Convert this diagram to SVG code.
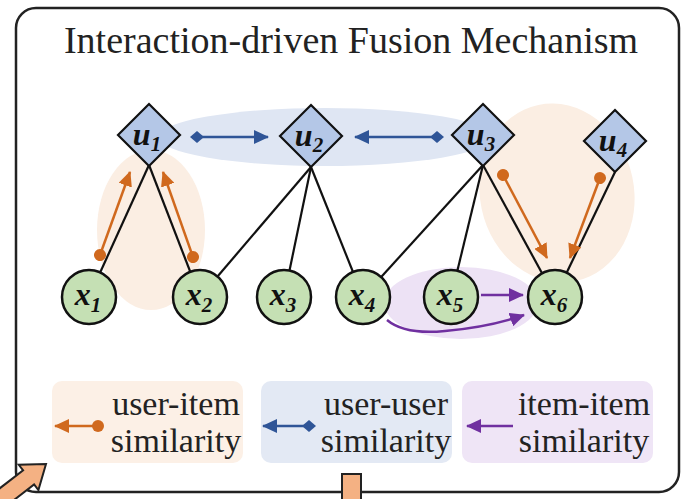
<svg xmlns="http://www.w3.org/2000/svg" width="682" height="499" viewBox="0 0 682 499">
<style>
.title{font-family:"Liberation Serif","Times New Roman",serif;font-size:38px;fill:#222}
.leg{font-family:"Liberation Serif","Times New Roman",serif;font-size:34px;fill:#222}
.lbl{font-family:"Liberation Serif","Times New Roman",serif;font-size:32px;font-weight:bold;font-style:italic;fill:#111}
.sub{font-size:21px}
.user{fill:#b4c7e7;stroke:#111;stroke-width:2.2}
.item{fill:#c5e0b4;stroke:#111;stroke-width:2.5}
.edge{stroke:#111;stroke-width:2.2;fill:none}
.ui{stroke:#d0691e;stroke-width:2.5;fill:none}
.uu{stroke:#2f5597;stroke-width:2.5;fill:none}
.ii{stroke:#7030a0;stroke-width:2.5;fill:none}
.block{fill:#f4b183;stroke:#222;stroke-width:2}
</style>
<defs>
<marker id="oh" markerUnits="userSpaceOnUse" markerWidth="16" markerHeight="14" refX="14" refY="7" orient="auto"><path d="M0,0 L15,7 L0,14 Z" fill="#d0691e"/></marker>
<marker id="od" markerUnits="userSpaceOnUse" markerWidth="14" markerHeight="14" refX="7" refY="7" orient="auto"><circle cx="7" cy="7" r="6" fill="#d0691e"/></marker>
<marker id="bh" markerUnits="userSpaceOnUse" markerWidth="16" markerHeight="14" refX="14" refY="7" orient="auto"><path d="M0,0 L15,7 L0,14 Z" fill="#2f5597"/></marker>
<marker id="bd" markerUnits="userSpaceOnUse" markerWidth="14" markerHeight="14" refX="7" refY="7" orient="auto"><path d="M0,7 L7,1 L14,7 L7,13 Z" fill="#2f5597"/></marker>
<marker id="ph" markerUnits="userSpaceOnUse" markerWidth="16" markerHeight="14" refX="14" refY="7" orient="auto"><path d="M0,0 L15,7 L0,14 Z" fill="#7030a0"/></marker>
</defs>

<rect x="16" y="8" width="663" height="484" rx="20" fill="#fff" stroke="#222" stroke-width="2.5"/>
<text class="title" x="351" y="53" text-anchor="middle">Interaction-driven Fusion Mechanism</text>

<g id="backgrounds">
<ellipse cx="325" cy="137" rx="167" ry="29" fill="#dfe6f3"/>
<ellipse cx="151" cy="230" rx="54" ry="80" fill="#fbeee3"/>
<ellipse cx="557" cy="193" rx="77" ry="90" fill="#fbeee3" transform="rotate(-12 557 193)"/>
<ellipse cx="461" cy="303" rx="77" ry="36" fill="#ede2f5"/>
</g>

<g id="connectors">
<line class="edge" x1="149" y1="165" x2="89" y2="297"/>
<line class="edge" x1="149" y1="165" x2="200" y2="297"/>
<line class="edge" x1="311" y1="167" x2="200" y2="297"/>
<line class="edge" x1="311" y1="167" x2="284" y2="297"/>
<line class="edge" x1="311" y1="167" x2="363" y2="297"/>
<line class="edge" x1="483" y1="165" x2="363" y2="297"/>
<line class="edge" x1="483" y1="165" x2="451" y2="297"/>
<line class="edge" x1="483" y1="165" x2="555" y2="297"/>
<line class="edge" x1="615" y1="172" x2="555" y2="297"/>
<line class="uu" x1="197" y1="137" x2="268" y2="137" marker-start="url(#bd)" marker-end="url(#bh)"/>
<line class="uu" x1="437" y1="137" x2="355" y2="137" marker-start="url(#bd)" marker-end="url(#bh)"/>
<line class="ui" x1="100" y1="255" x2="130" y2="172" marker-start="url(#od)" marker-end="url(#oh)"/>
<line class="ui" x1="193" y1="257" x2="163" y2="172" marker-start="url(#od)" marker-end="url(#oh)"/>
<line class="ui" x1="503" y1="175" x2="547" y2="258" marker-start="url(#od)" marker-end="url(#oh)"/>
<line class="ui" x1="600" y1="178" x2="570" y2="258" marker-start="url(#od)" marker-end="url(#oh)"/>
<line class="ii" x1="481" y1="295" x2="523" y2="295" marker-end="url(#ph)"/>
<path class="ii" d="M387,320 Q405,335 445,331 Q490,327 524,315" marker-end="url(#ph)"/>
</g>

<g id="u1"><path class="user" d="M149,104 L180,135 L149,166 L118,135 Z"/><text class="lbl" x="147" y="145" text-anchor="middle">u<tspan class="sub" dy="6">1</tspan></text></g>
<g id="u2"><path class="user" d="M311,105 L342,136 L311,167 L280,136 Z"/><text class="lbl" x="309" y="146" text-anchor="middle">u<tspan class="sub" dy="6">2</tspan></text></g>
<g id="u3"><path class="user" d="M483,104 L514,135 L483,166 L452,135 Z"/><text class="lbl" x="481" y="145" text-anchor="middle">u<tspan class="sub" dy="6">3</tspan></text></g>
<g id="u4"><path class="user" d="M615,110 L646,141 L615,172 L584,141 Z"/><text class="lbl" x="613" y="151" text-anchor="middle">u<tspan class="sub" dy="6">4</tspan></text></g>

<g id="x1"><circle class="item" cx="89" cy="297" r="27"/><text class="lbl" x="88" y="305" text-anchor="middle">x<tspan class="sub" dy="7">1</tspan></text></g>
<g id="x2"><circle class="item" cx="200" cy="297" r="27"/><text class="lbl" x="199" y="305" text-anchor="middle">x<tspan class="sub" dy="7">2</tspan></text></g>
<g id="x3"><circle class="item" cx="284" cy="297" r="27"/><text class="lbl" x="283" y="305" text-anchor="middle">x<tspan class="sub" dy="7">3</tspan></text></g>
<g id="x4"><circle class="item" cx="363" cy="297" r="27"/><text class="lbl" x="362" y="305" text-anchor="middle">x<tspan class="sub" dy="7">4</tspan></text></g>
<g id="x5"><circle class="item" cx="451" cy="297" r="27"/><text class="lbl" x="450" y="305" text-anchor="middle">x<tspan class="sub" dy="7">5</tspan></text></g>
<g id="x6"><circle class="item" cx="555" cy="297" r="27"/><text class="lbl" x="554" y="305" text-anchor="middle">x<tspan class="sub" dy="7">6</tspan></text></g>

<g id="legend-user-item">
<rect x="52" y="381" width="191" height="82" rx="10" fill="#fcf0e6"/>
<line class="ui" x1="98" y1="426" x2="55" y2="426" marker-start="url(#od)" marker-end="url(#oh)"/>
<text class="leg" x="176" y="415" text-anchor="middle">user-item</text>
<text class="leg" x="176" y="452" text-anchor="middle">similarity</text>
</g>
<g id="legend-user-user">
<rect x="261" y="381" width="191" height="82" rx="10" fill="#e3e9f4"/>
<line class="uu" x1="309" y1="426" x2="263" y2="426" marker-start="url(#bd)" marker-end="url(#bh)"/>
<text class="leg" x="386" y="415" text-anchor="middle">user-user</text>
<text class="leg" x="386" y="452" text-anchor="middle">similarity</text>
</g>
<g id="legend-item-item">
<rect x="462" y="381" width="191" height="82" rx="10" fill="#efe5f6"/>
<line class="ii" x1="513" y1="426" x2="467" y2="426" marker-end="url(#ph)"/>
<text class="leg" x="584" y="415" text-anchor="middle">item-item</text>
<text class="leg" x="584" y="452" text-anchor="middle">similarity</text>
</g>

<g id="overlays">
<polygon class="block" points="46,464 38.4,490 34.1,484.5 2.5,508.9 -8.5,494.7 23.1,470.3 18.8,464.8"/>
<rect class="block" x="342" y="474" width="19" height="30"/>
</g>
</svg>
